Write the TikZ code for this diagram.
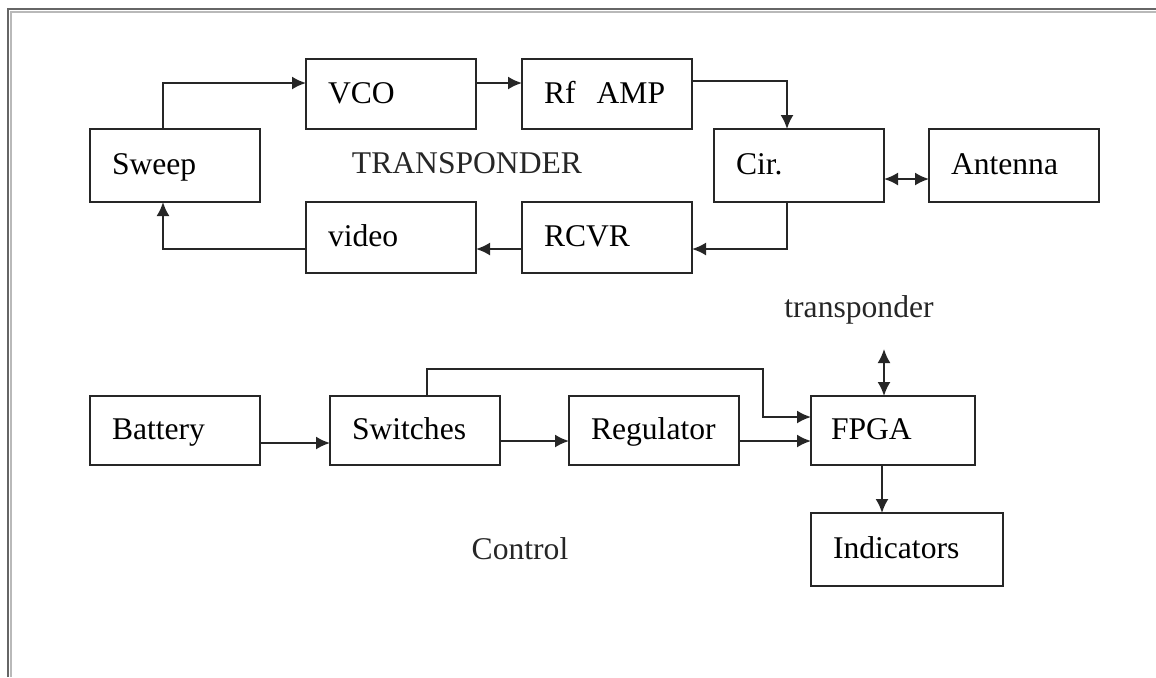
\documentclass[tikz,border=0pt]{standalone}
\usepackage{fontspec}
\setmainfont{Liberation Serif}
\usetikzlibrary{arrows.meta}

\tikzset{
  blok/.style={draw=black!85, line width=0.85pt, anchor=north west, outer sep=0pt,
    inner xsep=11pt, inner ysep=0pt, text width=63pt, align=left,
    text height=1.15em, text depth=0.25em, minimum height=35pt},
  conn/.style={draw=black!85, line width=1pt},
  arr/.style={conn, -{Latex[length=7pt,width=6.5pt]}},
  dbl/.style={conn, {Latex[length=7pt,width=6.5pt]}-{Latex[length=7pt,width=6.5pt]}},
  tekst/.style={inner sep=0pt, text=black!85}
}

\begin{document}
\begin{tikzpicture}[x=0.5pt, y=-0.5pt, font=\fontsize{15.8}{19}\selectfont]
    \useasboundingbox (0,0) rectangle (1156,677);
    % kader
    \draw[gray!80!black, line width=1pt] (8,677) -- (8,9) -- (1156,9);
    \draw[gray!55, line width=1pt] (10.5,677) -- (10.5,11.5) -- (1156,11.5);

    % transponder deel
    \node[blok, minimum height=36.5pt] (sweep) at (90,129) {Sweep};
    \node[blok] (vco) at (306,59) {VCO};
    \node[blok] (rfamp) at (522,59) {Rf\ \ AMP};
    \node[blok, minimum height=36.5pt] (cir) at (714,129) {Cir.};
    \node[blok, minimum height=36.5pt] (antenna) at (929,129) {Antenna};
    \node[blok, minimum height=35.5pt] (video) at (306,202) {video};
    \node[blok, minimum height=35.5pt] (rcvr) at (522,202) {RCVR};
    \node[tekst] (tlabel) at (467,163) {TRANSPONDER};

    \draw[arr] ([xshift=36.5pt]sweep.north west) |- ([yshift=5.5pt]vco.west);
    \draw[arr] ([yshift=5.5pt]vco.east) -- ([yshift=5.5pt]rfamp.west);
    \draw[arr] ([yshift=6.5pt]rfamp.east) -| ([xshift=-6pt]cir.north);
    \draw[arr] ([xshift=-6pt]cir.south) |- ([yshift=-5.75pt]rcvr.east);
    \draw[arr] ([yshift=-5.75pt]rcvr.west) -- ([yshift=-5.75pt]video.east);
    \draw[arr] ([yshift=-5.75pt]video.west) -| ([xshift=36.5pt]sweep.south west);
    \draw[dbl] ([yshift=-6.75pt]cir.east) -- ([yshift=-6.75pt]antenna.west);

    % control deel
    \node[blok, minimum height=34.5pt] (battery) at (90,396) {Battery};
    \node[blok, minimum height=34.5pt] (switches) at (330,396) {Switches};
    \node[blok, minimum height=34.5pt] (regulator) at (569,396) {Regulator};
    \node[blok, minimum height=34.5pt, text width=62pt, inner xsep=10pt] (fpga) at (811,396) {FPGA};
    \node[blok, minimum height=36.5pt, text width=74pt] (indicators) at (811,513) {Indicators};
    \node[tekst] (clabel) at (520,549) {Control};
    \node[tekst] (tplabel) at (859,310) {transponder};

    \draw[arr] ([yshift=-6.25pt]battery.east) -- ([yshift=-6.25pt]switches.west);
    \draw[arr] ([yshift=-5.25pt]switches.east) -- ([yshift=-5.25pt]regulator.west);
    \draw[arr] ([yshift=-5.25pt]regulator.east) -- ([yshift=-5.25pt]fpga.west);
    \coordinate (bend) at (763,369);
    \draw[arr] ([xshift=48.5pt]switches.north west) |- (bend) |- ([yshift=6.75pt]fpga.west);
    \coordinate (tpend) at (884,349);
    \coordinate (fout) at ([xshift=-5.5pt]fpga.south);
    \draw[dbl] (tpend) -- (tpend |- fpga.north);
    \draw[arr] (fout) -- (fout |- indicators.north);
\end{tikzpicture}
\end{document}
